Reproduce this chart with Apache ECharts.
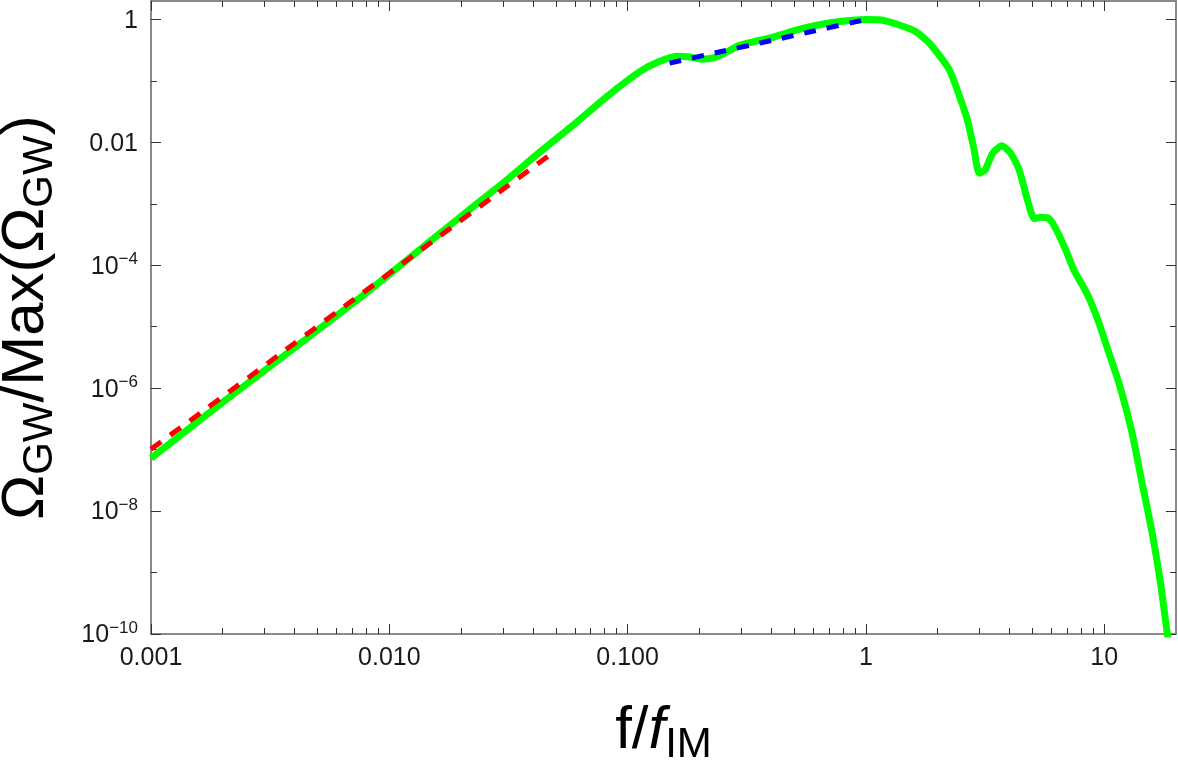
<!DOCTYPE html>
<html>
<head>
<meta charset="utf-8">
<script src="https://cdn.jsdelivr.net/npm/echarts@6/dist/echarts.min.js"></script>
<style>
html,body{margin:0;padding:0;background:#fff;}
#chart{width:1178px;height:761px;}
</style>
</head>
<body>
<div id="chart"></div>
<script>
// ---- data ----
const greenF = [0.001, 0.002, 0.00398, 0.00794, 0.01585, 0.0224, 0.0316, 0.0427, 0.059, 0.0815,
  0.1125, 0.132, 0.16, 0.182, 0.204, 0.229, 0.257, 0.295, 0.339, 0.398, 0.501, 0.631, 0.794, 1.0,
  1.138, 1.38, 1.62, 1.862, 2.239, 2.5, 2.667, 2.844, 2.985, 3.162, 3.396, 3.715, 4.055, 4.395,
  4.764, 5.08, 5.42, 5.86, 6.25, 6.887, 7.464, 8.222, 8.77, 9.506, 10.30, 11.53, 13.09, 14.42,
  15.89, 17.22, 18.37, 18.84];
const greenOmega = [7.24e-8, 5.89e-7, 4.47e-6, 3.47e-5, 3.02e-4, 8.91e-4, 2.57e-3, 6.92e-3, 0.01905, 0.0550,
  0.1413, 0.1972, 0.2512, 0.2455, 0.2265, 0.2371, 0.2884, 0.3802, 0.4365, 0.5012, 0.6607, 0.8128, 0.9333, 1.0,
  0.9886, 0.8128, 0.631, 0.398, 0.1514, 0.0490, 0.0229, 7.59e-3, 3.16e-3, 3.55e-3, 6.61e-3, 8.81e-3, 6.61e-3, 3.55e-3,
  1.148e-3, 5.75e-4, 6.03e-4, 5.75e-4, 3.98e-4, 1.78e-4, 8.32e-5, 4.27e-5, 2.57e-5, 1.148e-5, 4.47e-6, 1.20e-6, 1.86e-7, 2.82e-8,
  4.37e-9, 6.76e-10, 1.05e-10, 6.3e-11];
const redF = [0.001, 0.002, 0.005, 0.01, 0.02, 0.05];
const redOmega = [1.02e-7, 7.3e-7, 1.02e-5, 7.4e-5, 5.4e-4, 7.4e-3];
const blueF = [0.15, 0.2, 0.3, 0.5, 0.7, 1.0];
const blueOmega = [0.195, 0.2506, 0.355, 0.551, 0.736, 1.0];

const xMajorTicks = [0.001, 0.01, 0.1, 1, 10];
const xTickLabels = ['0.001', '0.010', '0.100', '1', '10'];
const xMinorTicks = [0.002, 0.003, 0.004, 0.005, 0.006, 0.007, 0.008, 0.009,
  0.02, 0.03, 0.04, 0.05, 0.06, 0.07, 0.08, 0.09,
  0.2, 0.3, 0.4, 0.5, 0.6, 0.7, 0.8, 0.9,
  2, 3, 4, 5, 6, 7, 8, 9];
const yMajorTicks = [1e-10, 1e-8, 1e-6, 1e-4, 1e-2, 1];
const yTickLabels = ['{a|10}{b|−10}', '{a|10}{b|−8}', '{a|10}{b|−6}', '{a|10}{b|−4}', '{a|0.01}', '{a|1}'];
const yMinorTicks = [1e-9, 1e-7, 1e-5, 1e-3, 0.1];

const X_MIN = 0.001, X_MAX = 20, Y_MIN = 1e-10, Y_MAX = 2;

function zip(a, b) { return a.map((v, i) => [v, b[i]]); }
function nearestIdx(arr, v) {
  let best = 0, bd = Infinity;
  arr.forEach((t, i) => { const d = Math.abs(Math.log10(t) - Math.log10(v)); if (d < bd) { bd = d; best = i; } });
  return best;
}

const FONT = 'Liberation Sans, Arial, sans-serif';
const frameColor = '#8a8a8a';
const tickColor = '#333';

function xAxisDef(pos, ticks, len, showLine, showLabel) {
  return {
    type: 'log', logBase: 10, min: X_MIN, max: X_MAX, position: pos,
    axisLine: { show: showLine, lineStyle: { color: frameColor, width: 2 } },
    axisTick: { show: true, inside: true, length: len, customValues: ticks, lineStyle: { color: tickColor, width: 1 } },
    axisLabel: showLabel ? {
      show: true, customValues: xMajorTicks, margin: 12, color: '#1a1a1a', fontSize: 25, fontFamily: FONT,
      formatter: v => xTickLabels[nearestIdx(xMajorTicks, v)]
    } : { show: false },
    splitLine: { show: false }, minorTick: { show: false }
  };
}
function yAxisDef(pos, ticks, len, showLine, showLabel) {
  return {
    type: 'log', logBase: 10, min: Y_MIN, max: Y_MAX, position: pos,
    axisLine: { show: showLine, lineStyle: { color: frameColor, width: 2 } },
    axisTick: { show: true, inside: true, length: len, customValues: ticks, lineStyle: { color: tickColor, width: 1 } },
    axisLabel: showLabel ? {
      show: true, customValues: yMajorTicks, margin: 13, color: '#1a1a1a', fontFamily: FONT,
      formatter: v => yTickLabels[nearestIdx(yMajorTicks, v)],
      rich: {
        a: { fontSize: 25, fontFamily: FONT, color: '#1a1a1a', lineHeight: 28, verticalAlign: 'bottom' },
        b: { fontSize: 17, fontFamily: FONT, color: '#1a1a1a', lineHeight: 18, verticalAlign: 'top' }
      }
    } : { show: false },
    splitLine: { show: false }, minorTick: { show: false }
  };
}

const xAxes = [
  xAxisDef('bottom', xMajorTicks, 10, true, true),
  xAxisDef('bottom', xMinorTicks, 6, false, false),
  xAxisDef('top', xMajorTicks, 10, true, false),
  xAxisDef('top', xMinorTicks, 6, false, false)
];
xAxes[0].name = '{m|f/}{i|f}{s|IM}';
xAxes[0].nameLocation = 'middle';
xAxes[0].nameGap = 62;
xAxes[0].nameTextStyle = {
  rich: {
    m: { fontSize: 60, fontFamily: FONT, color: '#000', lineHeight: 70 },
    i: { fontSize: 60, fontFamily: FONT, fontStyle: 'italic', color: '#000', lineHeight: 70 },
    s: { fontSize: 42, fontFamily: FONT, color: '#000', lineHeight: 40, verticalAlign: 'bottom' }
  }
};
const yAxes = [
  yAxisDef('left', yMajorTicks, 10, true, true),
  yAxisDef('left', yMinorTicks, 6, false, false),
  yAxisDef('right', yMajorTicks, 10, true, false),
  yAxisDef('right', yMinorTicks, 6, false, false)
];
yAxes[0].name = '{m|Ω}{s|GW}{m|/Max(Ω}{s|GW}{m|)}';
yAxes[0].nameLocation = 'middle';
yAxes[0].nameRotate = 90;
yAxes[0].nameGap = 90;
yAxes[0].nameTextStyle = {
  rich: {
    m: { fontSize: 60, fontFamily: FONT, color: '#000', lineHeight: 70 },
    s: { fontSize: 42, fontFamily: FONT, color: '#000', lineHeight: 40, verticalAlign: 'bottom' }
  }
};

const chart = echarts.init(document.getElementById('chart'), null, { renderer: 'canvas' });
chart.setOption({
  backgroundColor: '#fff',
  animation: false,
  grid: { left: 151, right: 2, top: 1, bottom: 127, containLabel: false, outerBoundsMode: 'none' },
  xAxis: xAxes,
  yAxis: yAxes,
  series: [
    {
      name: 'full', type: 'line', xAxisIndex: 0, yAxisIndex: 0, data: zip(greenF, greenOmega),
      showSymbol: false, symbol: 'none', smooth: 0.2, clip: true, z: 2,
      lineStyle: { color: '#00ff00', width: 7, cap: 'butt', join: 'round' }
    },
    {
      name: 'low', type: 'line', xAxisIndex: 0, yAxisIndex: 0, data: zip(redF, redOmega),
      showSymbol: false, symbol: 'none', smooth: true, clip: true, z: 3,
      lineStyle: { color: '#ff0000', width: 5, type: [13, 11], cap: 'butt' }
    },
    {
      name: 'mid', type: 'line', xAxisIndex: 0, yAxisIndex: 0, data: zip(blueF, blueOmega),
      showSymbol: false, symbol: 'none', smooth: true, clip: true, z: 3,
      lineStyle: { color: '#0000ff', width: 5, type: [12, 11], cap: 'butt' }
    }
  ]
});
</script>
</body>
</html>
